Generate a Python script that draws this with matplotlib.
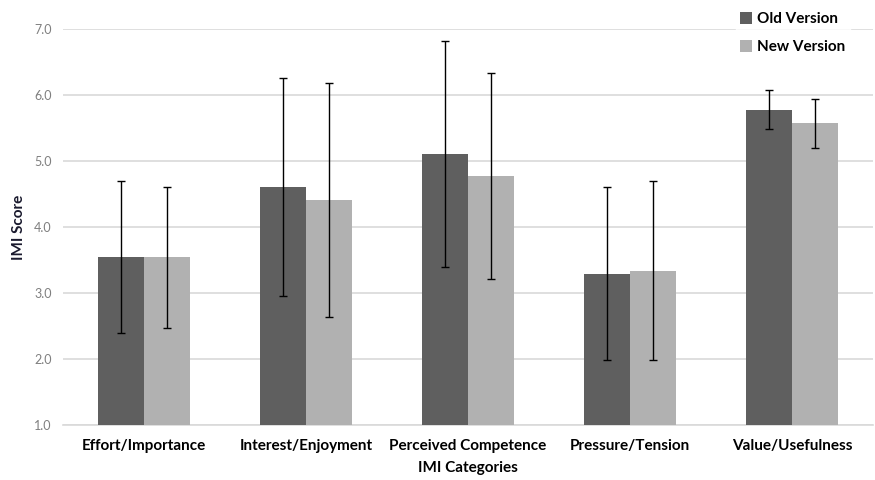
import matplotlib
matplotlib.use("Agg")
import matplotlib.pyplot as plt
import numpy as np

categories = ["Effort/Importance", "Interest/Enjoyment", "Perceived Competence",
              "Pressure/Tension", "Value/Usefulness"]
old_vals = [3.54, 4.61, 5.11, 3.29, 5.78]
old_err = [1.15, 1.65, 1.71, 1.31, 0.30]
new_vals = [3.54, 4.41, 4.77, 3.34, 5.57]
new_err = [1.07, 1.77, 1.56, 1.36, 0.37]
yticks = [1.0, 2.0, 3.0, 4.0, 5.0, 6.0, 7.0]

plt.rcParams['font.family'] = ['Lato', 'DejaVu Sans']

fig = plt.figure(figsize=(8.75, 4.8), dpi=100)
ax = fig.add_axes([63/875, 1-425/480, 810/875, (425-29)/480])

x = np.arange(len(categories))
w = 0.284
base = 1.0
old_h = [v - base for v in old_vals]
new_h = [v - base for v in new_vals]
ek = dict(ecolor='black', elinewidth=1.0, capsize=3, capthick=1.0)
ax.bar(x - w/2, old_h, w, bottom=base, color='#5f5f5f', yerr=old_err,
       error_kw=ek, label='Old Version', zorder=3)
ax.bar(x + w/2, new_h, w, bottom=base, color='#b1b1b1', yerr=new_err,
       error_kw=ek, label='New Version', zorder=3)

ax.set_xlim(-0.5, len(categories) - 0.5)
ax.set_ylim(1.0, 7.0)
ax.set_yticks(yticks)
ax.set_yticklabels([f"{t:.1f}" for t in yticks], color='#7f7f7f', fontsize=9)
ax.set_xticks(x)
ax.set_xticklabels(categories, fontsize=11, fontweight='bold', color='black')
ax.tick_params(axis='both', length=0)
ax.tick_params(axis='x', pad=10)
ax.tick_params(axis='y', pad=8)
ax.yaxis.grid(True, color='#d9d9d9', linewidth=1.2, zorder=0)
ax.set_axisbelow(True)
for s in ax.spines.values():
    s.set_visible(False)
ax.spines['bottom'].set_visible(True)
ax.spines['bottom'].set_color('#d9d9d9')
ax.spines['bottom'].set_linewidth(1.2)

ax.set_ylabel("IMI Score", fontsize=11, fontweight='bold', color='#1a1a2e')
ax.yaxis.set_label_coords((26 - 63) / 810, 0.5)
ax.set_xlabel("IMI Categories", fontsize=11, fontweight='bold', color='black', labelpad=6)

leg = fig.legend(loc='upper left', bbox_to_anchor=(728/875, 1.0), frameon=True,
                 fontsize=11, handlelength=0.8, handleheight=0.8, handletextpad=0.3,
                 labelspacing=0.9, borderpad=0.3)
leg.get_frame().set_facecolor('white')
leg.get_frame().set_edgecolor('white')
for t in leg.get_texts():
    t.set_fontweight('bold')

fig.savefig("out.png", dpi=100)
